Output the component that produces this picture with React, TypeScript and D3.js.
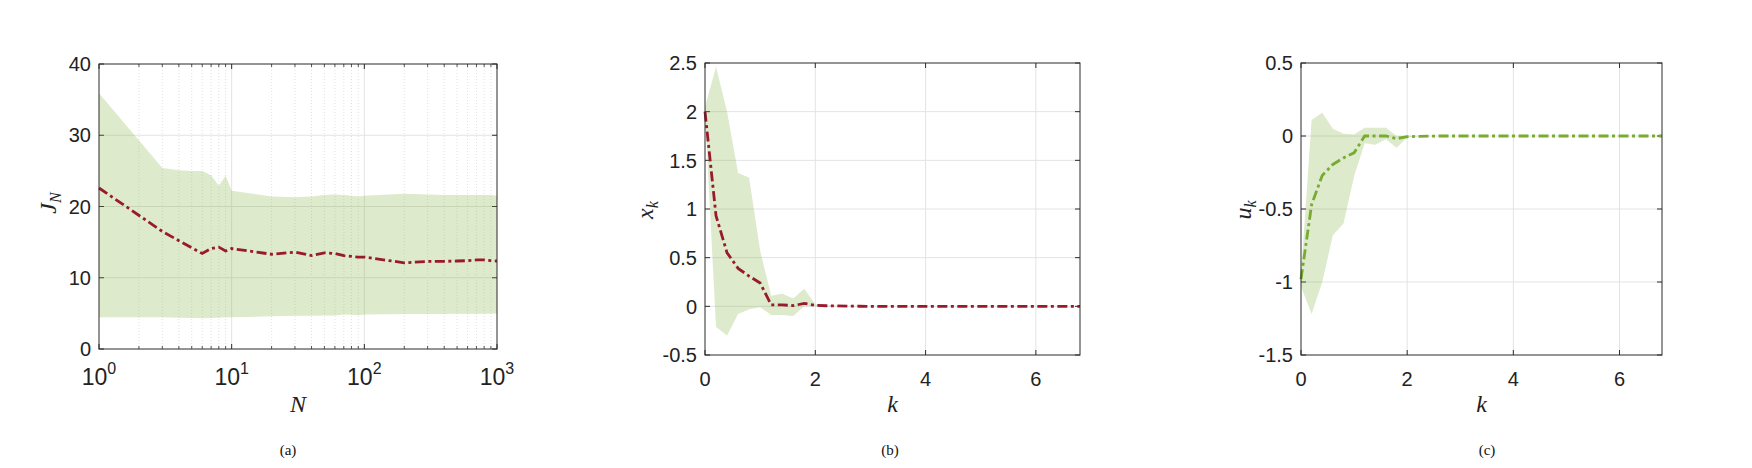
import React from "react";
import * as d3 from "d3";

// ---------- Data ----------
// Panel (a): cost J_N vs horizon N (log scale)
const nValues = [1, 3, 4, 5, 6, 7, 8, 9, 10, 20, 30, 40, 50, 60, 70, 80, 90, 100, 200, 300, 400, 500, 600, 700, 800, 900, 1000];
const jMean = [22.6, 16.5, 15.2, 14.2, 13.4, 14.1, 14.3, 13.75, 14.1, 13.3, 13.6, 13.1, 13.5, 13.4, 13.1, 13.0, 12.9, 12.9, 12.1, 12.3, 12.3, 12.35, 12.4, 12.5, 12.5, 12.4, 12.35];
const jUpper = [35.9, 25.4, 25.1, 25.0, 25.0, 24.4, 22.9, 24.3, 22.2, 21.4, 21.3, 21.4, 21.6, 21.7, 21.6, 21.5, 21.4, 21.5, 21.8, 21.7, 21.6, 21.6, 21.6, 21.6, 21.6, 21.6, 21.5];
const jLower = [4.45, 4.45, 4.4, 4.35, 4.3, 4.35, 4.4, 4.45, 4.45, 4.6, 4.65, 4.65, 4.7, 4.7, 4.85, 4.8, 4.75, 4.85, 4.9, 4.9, 4.92, 4.93, 4.94, 4.95, 4.96, 4.97, 4.97];
const jTicks = [0, 10, 20, 30, 40];
const nTicks = [1, 10, 100, 1000];
const nExponents = ["0", "1", "2", "3"];

// Panels (b), (c): time k
const kValues = [0, 0.2, 0.4, 0.6, 0.8, 1.0, 1.2, 1.4, 1.6, 1.8, 2.0, 2.2, 2.4, 2.6, 2.8, 3.0, 3.2, 3.4, 3.6, 3.8, 4.0, 4.2, 4.4, 4.6, 4.8, 5.0, 5.2, 5.4, 5.6, 5.8, 6.0, 6.2, 6.4, 6.6, 6.8];
const xMean = [2.0, 0.93, 0.55, 0.39, 0.31, 0.24, 0.015, 0.015, 0.007, 0.03, 0.01, 0.006, 0.004, 0.002, 0.001, 0, 0, 0, 0, 0, 0, 0, 0, 0, 0, 0, 0, 0, 0, 0, 0, 0, 0, 0, 0];
const xUpper = [2.05, 2.46, 2.0, 1.37, 1.32, 0.57, 0.11, 0.13, 0.08, 0.18, 0.02, 0.01, 0.005, 0.003, 0.002, 0.001, 0, 0, 0, 0, 0, 0, 0, 0, 0, 0, 0, 0, 0, 0, 0, 0, 0, 0, 0];
const xLower = [1.98, -0.21, -0.3, -0.08, -0.03, -0.01, -0.09, -0.09, -0.1, 0.0, 0.0, 0.0, 0, 0, 0, 0, 0, 0, 0, 0, 0, 0, 0, 0, 0, 0, 0, 0, 0, 0, 0, 0, 0, 0, 0];
const uMean = [-0.98, -0.47, -0.27, -0.195, -0.15, -0.115, 0.0, 0.0, 0.0, -0.018, -0.005, -0.002, -0.001, 0, 0, 0, 0, 0, 0, 0, 0, 0, 0, 0, 0, 0, 0, 0, 0, 0, 0, 0, 0, 0, 0];
const uUpper = [-0.95, 0.11, 0.16, 0.05, 0.016, 0.01, 0.057, 0.057, 0.057, 0.0, 0.0, 0, 0, 0, 0, 0, 0, 0, 0, 0, 0, 0, 0, 0, 0, 0, 0, 0, 0, 0, 0, 0, 0, 0, 0];
const uLower = [-1.03, -1.22, -1.0, -0.68, -0.6, -0.275, -0.05, -0.06, -0.023, -0.08, -0.01, -0.002, 0, 0, 0, 0, 0, 0, 0, 0, 0, 0, 0, 0, 0, 0, 0, 0, 0, 0, 0, 0, 0, 0, 0];
const kTicks = [0, 2, 4, 6];
const xTicks = [-0.5, 0, 0.5, 1, 1.5, 2, 2.5];
const uTicks = [-1.5, -1, -0.5, 0, 0.5];

// ---------- Styles ----------
const BAND = "#77AC30";
const RED = "#981a2d";
const GREEN = "#77AC30";
const AXIS = "#2b2b2b";
const GRID = "#e3e3e3";
const SANS = "'Liberation Sans', Arial, sans-serif";
const SERIF = "'Liberation Serif', 'Times New Roman', serif";
const DASH = "10,3.5,3,3.5";
const TICK_FS = 20;

type Box = { x0: number; x1: number; y0: number; y1: number };

function fmt(v: number) {
  return String(v);
}

function BandAndLine({ xs, mean, lo, hi, xScale, yScale, color }: any) {
  const idx = xs.map((_: number, i: number) => i);
  const area = d3
    .area<number>()
    .x((i) => xScale(xs[i]))
    .y0((i) => yScale(lo[i]))
    .y1((i) => yScale(hi[i]));
  const line = d3
    .line<number>()
    .x((i) => xScale(xs[i]))
    .y((i) => yScale(mean[i]));
  return (
    <g>
      <path d={area(idx) || ""} fill={BAND} fillOpacity={0.25} stroke="none" />
      <path d={line(idx) || ""} fill="none" stroke={color} strokeWidth={2.8} strokeDasharray={DASH} />
    </g>
  );
}

function YAxisStuff({ ticks, yScale, box, labelFmt }: any) {
  return (
    <g>
      {ticks.map((t: number) => {
        const y = yScale(t);
        return (
          <g key={"y" + t}>
            {t !== ticks[0] && t !== ticks[ticks.length - 1] && (
              <line x1={box.x0} x2={box.x1} y1={y} y2={y} stroke={GRID} strokeWidth={1} />
            )}
            <line x1={box.x0} x2={box.x0 + 5} y1={y} y2={y} stroke={AXIS} strokeWidth={1} />
            <line x1={box.x1} x2={box.x1 - 5} y1={y} y2={y} stroke={AXIS} strokeWidth={1} />
            <text x={box.x0 - 8} y={y} dy="0.36em" textAnchor="end" fontFamily={SANS} fontSize={TICK_FS} fill="#222">
              {labelFmt(t)}
            </text>
          </g>
        );
      })}
    </g>
  );
}

function PanelA() {
  const box: Box = { x0: 99, x1: 497, y0: 64, y1: 349 };
  const xScale = d3.scaleLog().domain([1, 1000]).range([box.x0, box.x1]);
  const yScale = d3.scaleLinear().domain([0, 40]).range([box.y1, box.y0]);
  const minor: number[] = [];
  for (const dec of [1, 10, 100]) for (let m = 2; m <= 9; m++) minor.push(dec * m);
  return (
    <g>
      {minor.map((v) => (
        <g key={"m" + v}>
          <line x1={xScale(v)} x2={xScale(v)} y1={box.y0} y2={box.y1} stroke="#d4d4d4" strokeWidth={0.7} strokeDasharray="1,2" />
          <line x1={xScale(v)} x2={xScale(v)} y1={box.y1} y2={box.y1 - 3} stroke={AXIS} strokeWidth={0.8} />
          <line x1={xScale(v)} x2={xScale(v)} y1={box.y0} y2={box.y0 + 3} stroke={AXIS} strokeWidth={0.8} />
        </g>
      ))}
      {nTicks.map((v, i) => (
        <g key={"x" + v}>
          {i > 0 && i < nTicks.length - 1 && (
            <line x1={xScale(v)} x2={xScale(v)} y1={box.y0} y2={box.y1} stroke={GRID} strokeWidth={1} />
          )}
          <line x1={xScale(v)} x2={xScale(v)} y1={box.y1} y2={box.y1 - 5} stroke={AXIS} />
          <line x1={xScale(v)} x2={xScale(v)} y1={box.y0} y2={box.y0 + 5} stroke={AXIS} />
        </g>
      ))}
      <YAxisStuff ticks={jTicks} yScale={yScale} box={box} labelFmt={fmt} />
      <BandAndLine xs={nValues} mean={jMean} lo={jLower} hi={jUpper} xScale={xScale} yScale={yScale} color={RED} />
      <rect x={box.x0} y={box.y0} width={box.x1 - box.x0} height={box.y1 - box.y0} fill="none" stroke={AXIS} strokeWidth={1} />
      {nTicks.map((v, i) => (
        <text key={"xl" + v} x={xScale(v)} y={385} textAnchor="middle" fontFamily={SANS} fontSize={23} fill="#222">
          10
          <tspan fontSize={16} dy={-11}>
            {nExponents[i]}
          </tspan>
        </text>
      ))}
      <text x={(box.x0 + box.x1) / 2} y={412} textAnchor="middle" fontFamily={SERIF} fontStyle="italic" fontSize={24} fill="#222">
        N
      </text>
      <text transform="translate(56,203) rotate(-90)" textAnchor="middle" fontFamily={SERIF} fontStyle="italic" fontSize={24} fill="#222">
        J
        <tspan fontSize={16} dy={5}>
          N
        </tspan>
      </text>
      <text x={288} y={455} textAnchor="middle" fontFamily={SERIF} fontSize={15} fill="#111">
        (a)
      </text>
    </g>
  );
}

function PanelK({ box, yDomain, yTicks, mean, lo, hi, color, ylab, ylabX, caption, captionX }: any) {
  const xScale = d3.scaleLinear().domain([0, 6.8]).range([box.x0, box.x1]);
  const yScale = d3.scaleLinear().domain(yDomain).range([box.y1, box.y0]);
  return (
    <g>
      {kTicks.map((v) => (
        <g key={"x" + v}>
          {v !== 0 && <line x1={xScale(v)} x2={xScale(v)} y1={box.y0} y2={box.y1} stroke={GRID} strokeWidth={1} />}
          <line x1={xScale(v)} x2={xScale(v)} y1={box.y1} y2={box.y1 - 5} stroke={AXIS} />
          <line x1={xScale(v)} x2={xScale(v)} y1={box.y0} y2={box.y0 + 5} stroke={AXIS} />
          <text x={xScale(v)} y={386} textAnchor="middle" fontFamily={SANS} fontSize={TICK_FS} fill="#222">
            {v}
          </text>
        </g>
      ))}
      <YAxisStuff ticks={yTicks} yScale={yScale} box={box} labelFmt={fmt} />
      <BandAndLine xs={kValues} mean={mean} lo={lo} hi={hi} xScale={xScale} yScale={yScale} color={color} />
      <rect x={box.x0} y={box.y0} width={box.x1 - box.x0} height={box.y1 - box.y0} fill="none" stroke={AXIS} strokeWidth={1} />
      <text x={(box.x0 + box.x1) / 2} y={412} textAnchor="middle" fontFamily={SERIF} fontStyle="italic" fontSize={24} fill="#222">
        k
      </text>
      <text transform={`translate(${ylabX},210) rotate(-90)`} textAnchor="middle" fontFamily={SERIF} fontStyle="italic" fontSize={24} fill="#222">
        {ylab}
        <tspan fontSize={16} dy={5}>
          k
        </tspan>
      </text>
      <text x={captionX} y={455} textAnchor="middle" fontFamily={SERIF} fontSize={15} fill="#111">
        {caption}
      </text>
    </g>
  );
}

export default function App() {
  return (
    <svg
      width={1752}
      height={468}
      viewBox="0 0 1752 468"
      style={{ position: "absolute", left: 0, top: 0, background: "#fff" }}
    >
      <rect x={0} y={0} width={1752} height={468} fill="#fff" />
      <PanelA />
      <PanelK
        box={{ x0: 705, x1: 1080, y0: 63, y1: 355 }}
        yDomain={[-0.5, 2.5]}
        yTicks={xTicks}
        mean={xMean}
        lo={xLower}
        hi={xUpper}
        color={RED}
        ylab="x"
        ylabX={653}
        caption="(b)"
        captionX={890}
      />
      <PanelK
        box={{ x0: 1301, x1: 1662, y0: 63, y1: 355 }}
        yDomain={[-1.5, 0.5]}
        yTicks={uTicks}
        mean={uMean}
        lo={uLower}
        hi={uUpper}
        color={GREEN}
        ylab="u"
        ylabX={1251}
        caption="(c)"
        captionX={1487}
      />
    </svg>
  );
}
